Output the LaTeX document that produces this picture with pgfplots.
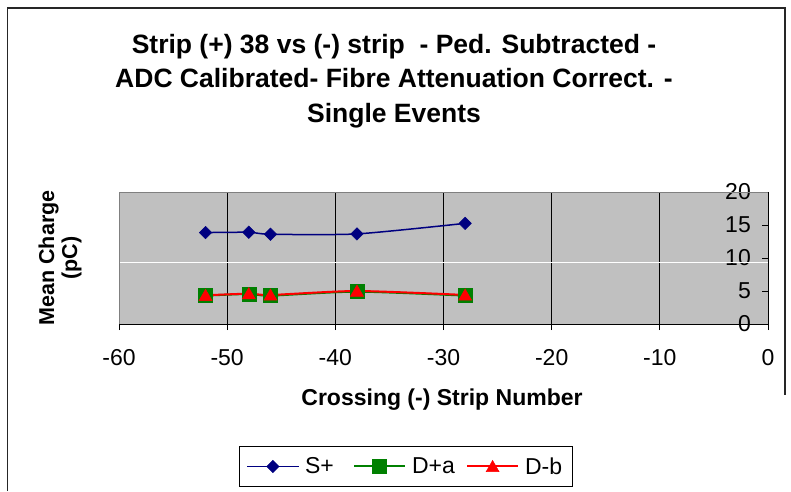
\documentclass[border=0pt]{standalone}
\usepackage{fontspec}
\setmainfont{Liberation Sans}
\usepackage{pgfplots}
\pgfplotsset{compat=1.18}
\definecolor{plotgray}{RGB}{192,192,192}
\definecolor{bordergray}{RGB}{128,128,128}
\definecolor{splus}{RGB}{0,0,128}
\definecolor{dpa}{RGB}{0,128,0}
\definecolor{dmb}{RGB}{255,0,0}
\begin{document}
\begin{tikzpicture}
\path[use as bounding box] (0pt,0pt) rectangle (791pt,491pt);
\draw[line width=1.5pt, black!85] (7.5pt,0pt) -- (7.5pt,483pt) -- (785pt,483pt) -- (785pt,96pt);
\begin{axis}[
  at={(119pt,167pt)}, anchor=south west,
  scale only axis, width=649pt, height=132pt,
  xmin=-60, xmax=0, ymin=0, ymax=20,
  axis x line*=bottom, axis y line*=right,
  axis line style={black, line width=1pt},
  xtick={-60,-50,-40,-30,-20,-10,0},
  ytick={0,5,10,15,20},
  xmajorgrids, grid style={black, line width=1pt},
  tick style={black, line width=0.8pt}, major tick length=6pt,
  xtick align=outside, ytick align=inside,
  axis background/.style={fill=plotgray},
  tick label style={font=\fontsize{23}{27}\selectfont},
  /pgf/number format/assume math mode=true,
  xticklabel style={anchor=north, inner sep=0pt, yshift=-19pt},
  yticklabel style={anchor=east, inner sep=0pt, xshift=-17pt},
  legend columns=3,
  legend style={at={(axis description cs:0.442,-1.0795)}, anchor=center,
    draw=black, line width=0.8pt, font=\fontsize{23}{27}\selectfont,
    inner xsep=7pt, inner ysep=11pt, column sep=6pt,
    nodes={inner sep=0pt}},
  legend image code/.code={\draw[mark repeat=2, mark phase=2, #1] plot coordinates {(0pt,0pt) (25.5pt,0pt) (51pt,0pt)};},
]
\draw[white, line width=1pt] (axis cs:-60,9.35) -- (axis cs:0,9.35);
\draw[bordergray, line width=1pt] (rel axis cs:0,0) -- (rel axis cs:0,1) -- (rel axis cs:1,1);
\addplot[splus, line width=1.5pt, smooth, tension=0.4, mark=square*, mark size=4.4pt,
  mark options={rotate=45, fill=splus, line width=0.5pt}]
  coordinates {(-52,13.85) (-48,13.9) (-46,13.6) (-38,13.65) (-28,15.25)};
\addlegendentry{\makebox[42pt][l]{S+}}
\addplot[dpa, line width=2pt, smooth, tension=0.4, mark=square*, mark size=7pt,
  mark options={fill=dpa, line width=0.5pt}]
  coordinates {(-52,4.3) (-48,4.55) (-46,4.3) (-38,4.9) (-28,4.3)};
\addlegendentry{\makebox[48pt][l]{D+a}}
\addplot[dmb, line width=2pt, smooth, tension=0.4, mark=triangle*, mark size=7.5pt,
  mark options={fill=dmb, line width=0.5pt, yshift=-1.5pt}]
  coordinates {(-52,4.35) (-48,4.6) (-46,4.4) (-38,5.0) (-28,4.4)};
\addlegendentry{\makebox[40pt][l]{D-b}}
\end{axis}
\node[align=center, font=\fontsize{26.5}{34.5}\selectfont\bfseries] at (394pt,410pt)
  {Strip (+) 38 vs (-) strip~~- Ped. Subtracted -\\ADC Calibrated- Fibre Attenuation Correct. -\\Single Events};
\node[rotate=90, align=center, font=\fontsize{21.5}{23}\selectfont\bfseries] at (60pt,233pt)
  {Mean Charge\\(pC)};
\node[font=\fontsize{23}{27}\selectfont\bfseries] at (442pt,91pt) {Crossing (-) Strip Number};
\end{tikzpicture}
\end{document}
